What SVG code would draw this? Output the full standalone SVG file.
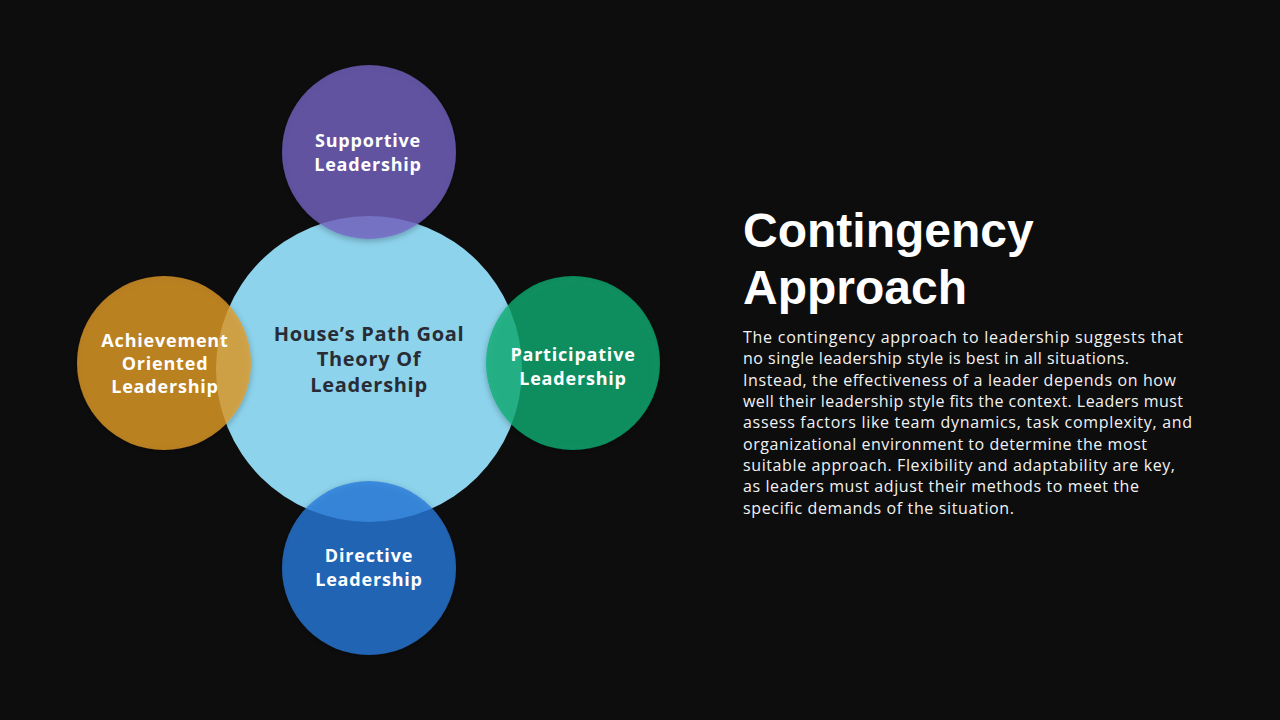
<svg xmlns="http://www.w3.org/2000/svg" width="1280" height="720" viewBox="0 0 1280 720">
  <defs>
    <style>
      .lbl { font-family: "Open Sans", "Liberation Sans", sans-serif; font-weight: 700; font-size: 18px; letter-spacing: 0.8px; fill: #ffffff; text-anchor: middle; }
      .ctr { font-family: "Open Sans", "Liberation Sans", sans-serif; font-weight: 700; font-size: 20px; letter-spacing: 0.7px; fill: #282c35; text-anchor: middle; }
      .title { font-family: "Liberation Sans", Arial, sans-serif; font-weight: 700; font-size: 48px; fill: #ffffff; }
      .body { font-family: "Open Sans", "Liberation Sans", sans-serif; font-size: 16px; fill: #f2f2f2; }
      .sat { fill-opacity: 0.78; }
    </style>
    <filter id="sh" x="-20%" y="-20%" width="140%" height="140%">
      <feDropShadow dx="0" dy="2" stdDeviation="3" flood-color="#000" flood-opacity="0.35"/>
    </filter>
  </defs>
  <rect width="1280" height="720" fill="#0d0d0d"/>

  <g id="connectors"></g>

  <g id="center">
    <circle cx="369" cy="369" r="153" fill="#8dd3ec"/>
    <text class="ctr" x="369" y="341">House’s Path Goal</text>
    <text class="ctr" x="369" y="366">Theory Of</text>
    <text class="ctr" x="369" y="392">Leadership</text>
  </g>

  <g id="supportive">
    <circle class="sat" cx="369" cy="152" r="87" fill="#7563c3" filter="url(#sh)"/>
    <text class="lbl" x="368" y="147">Supportive</text>
    <text class="lbl" x="368" y="171">Leadership</text>
  </g>

  <g id="achievement">
    <circle class="sat" cx="164" cy="363" r="87" fill="#e29c26" filter="url(#sh)"/>
    <text class="lbl" x="165" y="347">Achievement</text>
    <text class="lbl" x="165" y="370">Oriented</text>
    <text class="lbl" x="165" y="393">Leadership</text>
  </g>

  <g id="participative">
    <circle class="sat" cx="573" cy="363" r="87" fill="#09ad73" filter="url(#sh)"/>
    <text class="lbl" x="573" y="361">Participative</text>
    <text class="lbl" x="573" y="385">Leadership</text>
  </g>

  <g id="directive">
    <circle class="sat" cx="369" cy="568" r="87" fill="#2879da" filter="url(#sh)"/>
    <text class="lbl" x="369" y="562">Directive</text>
    <text class="lbl" x="369" y="586">Leadership</text>
  </g>

  <g id="text-panel">
    <text class="title" x="743" y="247">Contingency</text>
    <text class="title" x="743" y="304">Approach</text>
    <text class="body" x="743" y="343" textLength="440" lengthAdjust="spacing">The contingency approach to leadership suggests that</text>
    <text class="body" x="743" y="364" textLength="386" lengthAdjust="spacing">no single leadership style is best in all situations.</text>
    <text class="body" x="743" y="386" textLength="433" lengthAdjust="spacing">Instead, the effectiveness of a leader depends on how</text>
    <text class="body" x="743" y="407" textLength="440" lengthAdjust="spacing">well their leadership style fits the context. Leaders must</text>
    <text class="body" x="743" y="428" textLength="449" lengthAdjust="spacing">assess factors like team dynamics, task complexity, and</text>
    <text class="body" x="743" y="450" textLength="404" lengthAdjust="spacing">organizational environment to determine the most</text>
    <text class="body" x="743" y="471" textLength="432" lengthAdjust="spacing">suitable approach. Flexibility and adaptability are key,</text>
    <text class="body" x="743" y="492" textLength="396" lengthAdjust="spacing">as leaders must adjust their methods to meet the</text>
    <text class="body" x="743" y="514" textLength="271" lengthAdjust="spacing">specific demands of the situation.</text>
  </g>
</svg>
